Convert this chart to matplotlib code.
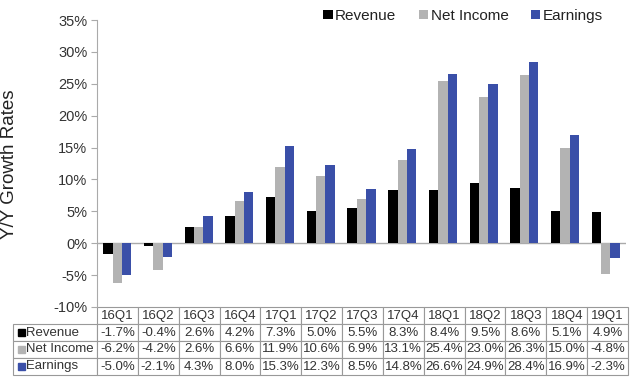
import matplotlib
matplotlib.use("Agg")
import matplotlib.pyplot as plt
from matplotlib.patches import Rectangle
import numpy as np

plt.rcParams['font.family'] = ['Liberation Sans', 'DejaVu Sans']

quarters = ["16Q1", "16Q2", "16Q3", "16Q4", "17Q1", "17Q2", "17Q3", "17Q4",
            "18Q1", "18Q2", "18Q3", "18Q4", "19Q1"]
revenue = [-1.7, -0.4, 2.6, 4.2, 7.3, 5.0, 5.5, 8.3, 8.4, 9.5, 8.6, 5.1, 4.9]
net_income = [-6.2, -4.2, 2.6, 6.6, 11.9, 10.6, 6.9, 13.1, 25.4, 23.0, 26.3, 15.0, -4.8]
earnings = [-5.0, -2.1, 4.3, 8.0, 15.3, 12.3, 8.5, 14.8, 26.6, 24.9, 28.4, 16.9, -2.3]
series_names = ["Revenue", "Net Income", "Earnings"]
series_values = [revenue, net_income, earnings]
colors = ["#000000", "#b3b3b3", "#3a4fa8"]
yticks = [-10, -5, 0, 5, 10, 15, 20, 25, 30, 35]

W, H = 632, 381
fig = plt.figure(figsize=(W / 100, H / 100), dpi=100)
ax_left, ax_right, ax_top, ax_bot = 97, 626, 20, 307
ax = fig.add_axes([ax_left / W, 1 - ax_bot / H, (ax_right - ax_left) / W, (ax_bot - ax_top) / H])

x = np.arange(len(quarters))
bw = 0.23
for i, (name, vals, c) in enumerate(zip(series_names, series_values, colors)):
    ax.bar(x + (i - 1) * bw, vals, width=bw, color=c, label=name, zorder=3)

ax.set_xlim(-0.5, len(quarters) - 0.5)
ax.set_ylim(-10, 35)
ax.set_yticks(yticks)
ax.set_yticklabels([f"{t}%" for t in yticks], fontsize=10.5, color="#333333")
ax.set_xticks([])
for s in ["top", "right", "bottom"]:
    ax.spines[s].set_visible(False)
ax.spines["left"].set_color("#aaaaaa")
ax.tick_params(axis="y", length=4, color="#aaaaaa", pad=3)
ax.axhline(0, color="#aaaaaa", lw=1, zorder=2)

fig.text(0.5 / W, 1 - 164 / H, "Y/Y Growth Rates", rotation=90, fontsize=13.5,
         va="center", ha="left", color="#222222")

leg = fig.legend(loc="center right", bbox_to_anchor=(609 / W, 1 - 16 / H), ncol=3,
                 frameon=False, fontsize=11, handlelength=0.6, handleheight=0.6,
                 handletextpad=0.15, columnspacing=1.5, borderaxespad=0)
for t in leg.get_texts():
    t.set_color("#222222")

# table
cell_text = [[""] + quarters]
for name, vals in zip(series_names, series_values):
    cell_text.append(["   " + name] + [f"{v:.1f}%" for v in vals])
tb_left, tb_right, tb_top, tb_bot = 13, 628, 307, 375
axw, axh = ax_right - ax_left, ax_bot - ax_top
bbox = [(tb_left - ax_left) / axw, -(tb_bot - tb_top) / axh,
        (tb_right - tb_left) / axw, (tb_bot - tb_top) / axh]
first_w = ax_left - tb_left
col_w = [first_w] + [(tb_right - ax_left) / len(quarters)] * len(quarters)
tot = sum(col_w)
tbl = ax.table(cellText=cell_text, colWidths=[c / tot for c in col_w], bbox=bbox,
               cellLoc="center")
tbl.auto_set_font_size(False)
for (r, c), cell in tbl.get_celld().items():
    cell.set_edgecolor("#999999")
    cell.set_linewidth(0.8)
    cell.get_text().set_fontsize(9.5)
    cell.get_text().set_color("#333333")
    if c == 0:
        cell.get_text().set_ha("left")
        cell._loc = "left"
        cell.PAD = 0.02
    if r == 0 and c == 0:
        cell.set_edgecolor("none")

# legend keys inside table row labels
row_h = (tb_bot - tb_top) / 4
for i, c in enumerate(colors):
    cy = tb_top + row_h * (i + 1.5)
    fig.add_artist(Rectangle(((18) / W, 1 - (cy + 3.5) / H), 7 / W, 7 / H,
                             transform=fig.transFigure, color=c))

fig.savefig("out.png", dpi=100)
